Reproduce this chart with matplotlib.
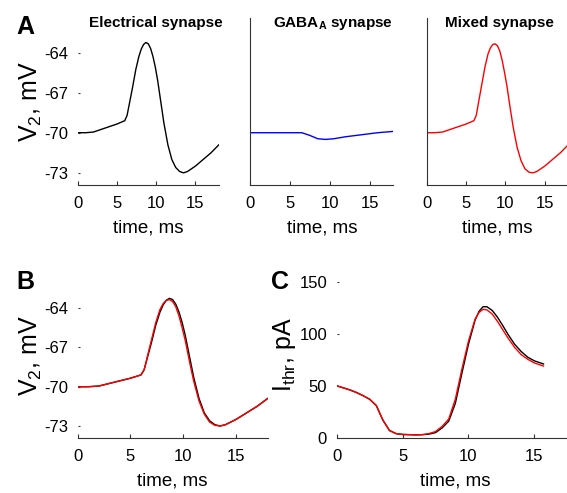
"""Recreation: postsynaptic potential V2 for three synapse types and threshold current."""
import matplotlib
matplotlib.use("Agg")
import matplotlib.pyplot as plt
from matplotlib import font_manager

plt.rcParams["font.family"] = ["Liberation Sans", "DejaVu Sans"]
plt.rcParams["mathtext.fontset"] = "custom"
plt.rcParams["mathtext.rm"] = "Liberation Sans"
plt.rcParams["mathtext.bf"] = "Liberation Sans:bold"
plt.rcParams["mathtext.default"] = "regular"
plt.rcParams["axes.unicode_minus"] = False

names = {f.name for f in font_manager.fontManager.ttflist}
NARROW = "Liberation Sans Narrow" if "Liberation Sans Narrow" in names else "Liberation Sans"

# --- data ---
t_v = [0, 1, 2, 3, 4, 5, 6, 6.3, 6.6, 7.0, 7.4, 7.8, 8.1, 8.4, 8.7, 9.0, 9.3,
       9.6, 9.9, 10.2, 10.6, 11.0, 11.5, 12.0, 12.5, 13.0, 13.5, 14.0, 15.0,
       16.0, 17.0, 18]
v_electrical = [-70.0, -70.0, -69.95, -69.75, -69.55, -69.35, -69.1, -68.7, -67.8,
                -66.6, -65.3, -64.3, -63.75, -63.4, -63.25, -63.35, -63.7, -64.3,
                -65.1, -66.1, -67.7, -69.3, -70.9, -72.0, -72.6, -72.9, -73.0,
                -72.9, -72.5, -72.0, -71.5, -70.9]
v_mixed = [-70.0, -70.0, -69.95, -69.75, -69.55, -69.35, -69.1, -68.7, -67.7,
           -66.4, -65.1, -64.1, -63.65, -63.4, -63.35, -63.5, -63.9, -64.6,
           -65.5, -66.5, -68.1, -69.6, -71.1, -72.1, -72.7, -72.95, -73.0,
           -72.9, -72.5, -72.0, -71.5, -70.9]
t_gaba = [0, 6.5, 7.5, 8.5, 9.5, 10.5, 12, 14, 16, 18]
v_gaba = [-70.0, -70.0, -70.2, -70.45, -70.5, -70.45, -70.3, -70.15, -70.0, -69.9]

t_i = [0, 0.5, 1, 1.5, 2, 2.5, 3, 3.5, 4, 4.5, 5, 5.5, 6, 6.5, 7, 7.5, 8, 8.5,
       9, 9.5, 10, 10.5, 10.8, 11.1, 11.4, 11.8, 12.2, 12.6, 13, 13.5, 14, 14.5,
       15, 15.7]
i_mixed = [50, 48, 46, 43.5, 40.5, 37, 31, 17, 7, 4, 3.2, 3, 2.8, 3, 4, 6, 11,
           18, 37, 66, 93, 114, 120.5, 123.5, 123, 119, 112, 104, 96, 87, 80,
           75.5, 72, 69]
i_electrical = [50, 48, 46, 43.5, 40.5, 37, 31, 17, 7, 4, 3.2, 3, 2.8, 3, 3.5,
                5, 9.5, 16, 33, 62, 90, 113, 121.5, 126, 126, 122.5, 116, 108,
                99.5, 90, 83, 77.5, 74, 71]

v_ticks = [-73, -70, -67, -64]
t_ticks = [0, 5, 10, 15]
i_ticks = [0, 50, 100, 150]

RED = "#ff0000"
BLUE = "#0000ff"
TICK_FS = 12
XLABEL_FS = 13.5
YLABEL_FS = 18


def style(ax, left_spine):
    for s in ("top", "right"):
        ax.spines[s].set_visible(False)
    ax.spines["left"].set_visible(left_spine)
    ax.spines["bottom"].set_color("#333333")
    ax.spines["left"].set_color("#333333")
    ax.tick_params(direction="in", length=3, width=0.8, labelsize=TICK_FS,
                   pad=8, color="#333333")
    ax.tick_params(axis="y", length=1.2, pad=7)
    ax.set_xticks(t_ticks)
    ax.set_xlim(0, 18)
    for lab in ax.get_xticklabels() + ax.get_yticklabels():
        lab.set_family(NARROW)
    ax.set_xlabel("time, ms", fontsize=XLABEL_FS, labelpad=6)


fig = plt.figure(figsize=(5.67, 4.93), dpi=100)

# Panel A
ax1 = fig.add_axes([0.137, 0.625, 0.249, 0.339])
ax2 = fig.add_axes([0.441, 0.625, 0.253, 0.339])
ax3 = fig.add_axes([0.7526, 0.625, 0.2496, 0.339])
panels_a = [
    (ax1, t_v, v_electrical, "black", "Electrical synapse", False, 0.274),
    (ax2, t_gaba, v_gaba, BLUE, r"$\mathbf{GABA_A}$ synapse", True, 0.587),
    (ax3, t_v, v_mixed, RED, "Mixed synapse", True, 0.880),
]
for ax, t, y, c, title, spine, tx in panels_a:
    ax.plot(t, y, color=c, linewidth=1)
    ax.set_ylim(-73.9, -61.4)
    ax.set_yticks(v_ticks)
    style(ax, spine)
    fig.text(tx, 0.953, title, fontsize=11, fontweight="bold",
             ha="center", va="center")
    if ax is ax1:
        ax.set_ylabel("V$_2$, mV", fontsize=YLABEL_FS, labelpad=0)
    else:
        ax.tick_params(axis="y", left=False, labelleft=False)

# Panel B
axb = fig.add_axes([0.137, 0.112, 0.335, 0.332])
axb.plot(t_v, v_electrical, color="black", linewidth=1)
axb.plot(t_v, v_mixed, color=RED, linewidth=1)
axb.set_ylim(-73.9, -61.4)
axb.set_yticks(v_ticks)
style(axb, False)
axb.set_ylabel("V$_2$, mV", fontsize=YLABEL_FS, labelpad=0)

# Panel C
axc = fig.add_axes([0.594, 0.112, 0.418, 0.3375])
axc.plot(t_i, i_electrical, color="black", linewidth=1)
axc.plot(t_i, i_mixed, color=RED, linewidth=1)
axc.set_ylim(0, 160)
axc.set_yticks(i_ticks)
style(axc, False)
axc.set_ylabel("I$_{thr}$, pA", fontsize=YLABEL_FS, labelpad=1)

for x, y, s in [(0.028, 0.946, "A"), (0.028, 0.427, "B"), (0.478, 0.427, "C")]:
    fig.text(x, y, s, fontsize=18, fontweight="bold", ha="left", va="center")

fig.savefig("out.png", dpi=100)
